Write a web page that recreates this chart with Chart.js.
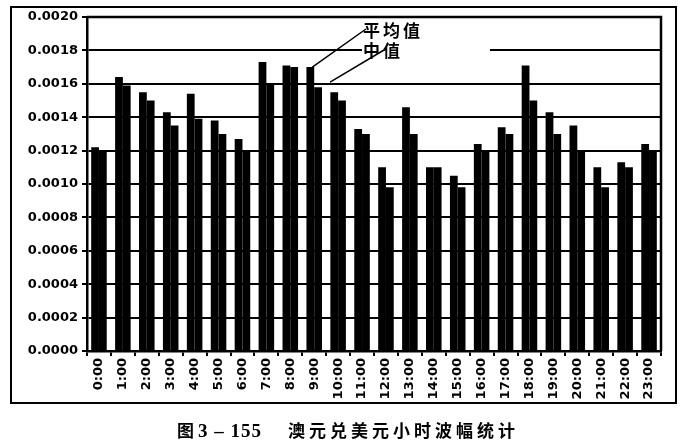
<!DOCTYPE html>
<html>
<head>
<meta charset="utf-8">
<script src="https://cdn.jsdelivr.net/npm/chart.js@4"></script>
<style>
  html, body { margin: 0; padding: 0; background: #fff; }
  #wrap { position: relative; width: 696px; height: 448px; overflow: hidden; }
  #frame { position: absolute; left: 10px; top: 6px; width: 663px; height: 394px; border: 2px solid #000; }
  #cv { position: absolute; left: 0; top: 0; }
  #caption {
    position: absolute; left: 177px; top: 417px; white-space: nowrap;
    font-family: "Noto Sans CJK SC", sans-serif; font-weight: 700; font-size: 17px; color: #000;
  }
  #caption .num { font-family: "Liberation Serif", serif; font-weight: 700; font-size: 19px; margin: 0 0 0 4px; letter-spacing: 1px; }
  #caption .ttl { letter-spacing: 4px; margin-left: 26px; }
</style>
</head>
<body>
<div id="wrap">
  <div id="frame"></div>
  <canvas id="cv" width="696" height="448"></canvas>
  <div id="caption">图<span class="num">3 – 155</span><span class="ttl">澳元兑美元小时波幅统计</span></div>
</div>
<script>
// ── data ─────────────────────────────────────────────────────────────
const HOURS = [
  "0:00", "1:00", "2:00", "3:00", "4:00", "5:00", "6:00", "7:00",
  "8:00", "9:00", "10:00", "11:00", "12:00", "13:00", "14:00", "15:00",
  "16:00", "17:00", "18:00", "19:00", "20:00", "21:00", "22:00", "23:00",
];
const MEAN = [
  0.00122, 0.00164, 0.00155, 0.00143, 0.00154, 0.00138, 0.00127, 0.00173,
  0.00171, 0.00170, 0.00155, 0.00133, 0.00110, 0.00146, 0.00110, 0.00105,
  0.00124, 0.00134, 0.00171, 0.00143, 0.00135, 0.00110, 0.00113, 0.00124,
];
const MEDIAN = [
  0.00120, 0.00159, 0.00150, 0.00135, 0.00139, 0.00130, 0.00120, 0.00160,
  0.00170, 0.00158, 0.00150, 0.00130, 0.00098, 0.00130, 0.00110, 0.00098,
  0.00120, 0.00130, 0.00150, 0.00130, 0.00120, 0.00098, 0.00110, 0.00120,
];
const SERIES = ["平均值", "中值"];
const Y_MIN = 0, Y_MAX = 0.002, Y_STEP = 0.0002;

// ── leader-line labels + plot border ─────────────────────────────────
const annot = {
  id: "annot",
  afterDatasetsDraw(chart) {
    const { ctx, chartArea: a } = chart;
    const mean = chart.getDatasetMeta(0).data[9];
    const med = chart.getDatasetMeta(1).data[9];
    ctx.save();
    // plot border (top + right)
    ctx.strokeStyle = "#000";
    ctx.lineWidth = 2.5;
    ctx.beginPath();
    ctx.moveTo(a.left, a.top);
    ctx.lineTo(a.right, a.top);
    ctx.lineTo(a.right, a.bottom);
    ctx.stroke();
    // label box hides the grid line
    ctx.fillStyle = "#fff";
    ctx.fillRect(362, 22, 128, 40);
    // leader lines
    ctx.lineWidth = 1.5;
    ctx.beginPath();
    ctx.moveTo(mean.x + 2, mean.y);
    ctx.lineTo(366, 29);
    ctx.moveTo(med.x + 12, med.y - 5);
    ctx.lineTo(384, 50);
    ctx.stroke();
    ctx.fillStyle = "#000";
    ctx.font = "700 17px 'Noto Sans CJK SC'";
    ctx.textBaseline = "middle";
    ctx.letterSpacing = "3px";
    ctx.fillText(SERIES[0], 363, 31);
    ctx.fillText(SERIES[1], 363, 51);
    ctx.restore();
  },
};

const tickFont = { family: "'DejaVu Sans', sans-serif", size: 13, weight: "bold" };

new Chart(document.getElementById("cv"), {
  type: "bar",
  data: {
    labels: HOURS,
    datasets: [
      { label: SERIES[0], data: MEAN, backgroundColor: "#000", borderWidth: 0,
        categoryPercentage: 0.65, barPercentage: 1.0 },
      { label: SERIES[1], data: MEDIAN, backgroundColor: "#000", borderWidth: 0,
        categoryPercentage: 0.65, barPercentage: 1.0 },
    ],
  },
  options: {
    responsive: false,
    animation: false,
    layout: { padding: { left: 0, top: 17, right: 35, bottom: 0 } },
    plugins: { legend: { display: false }, tooltip: { enabled: false } },
    scales: {
      x: {
        afterFit: (s) => { s.height = 97; },
        grid: { display: true, drawOnChartArea: false, drawTicks: true, tickLength: 5,
                color: "#000", lineWidth: 2 },
        border: { display: true, color: "#000", width: 2.5 },
        ticks: { color: "#000", font: tickFont, minRotation: 90, maxRotation: 90,
                 padding: 2, autoSkip: false },
      },
      y: {
        min: Y_MIN,
        max: Y_MAX,
        afterFit: (s) => { s.width = 87; },
        grid: { color: "#000", lineWidth: 2, tickLength: 5 },
        border: { display: true, color: "#000", width: 2.5 },
        ticks: { color: "#000", font: tickFont, stepSize: Y_STEP, padding: 4,
                 callback: (v) => v.toFixed(4) },
      },
    },
  },
  plugins: [annot],
});
</script>
</body>
</html>
